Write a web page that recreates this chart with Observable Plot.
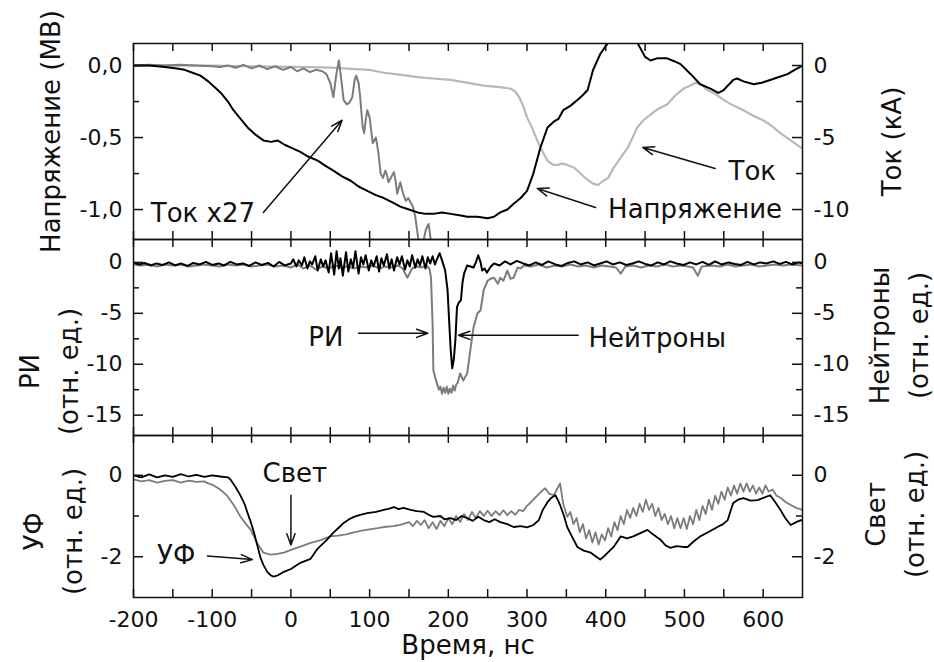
<!DOCTYPE html>
<html><head><meta charset="utf-8">
<script src="https://cdn.jsdelivr.net/npm/d3@7"></script>
<script src="https://cdn.jsdelivr.net/npm/@observablehq/plot@0.6"></script>
<style>
body{margin:0;background:#fff;}
#chart{position:relative;width:934px;height:662px;overflow:hidden;background:#fff;}
#chart svg{position:absolute;left:0;top:0;}
</style></head><body><div id="chart"></div>
<script>
// ---------- tick values ----------
const xMajorTicks = [-200,-100,0,100,200,300,400,500,600];
const xMinorTicks = [-150,-50,50,150,250,350,450,550];
const vMajorTicks = [0,-0.5,-1.0];          // MV (right axis: kA = MV*10)
const vMinorTicks = [-0.25,-0.75];
const riMajorTicks = [0,-5,-10,-15];
const riMinorTicks = [-2.5,-7.5,-12.5];
const uvMajorTicks = [0,-2];
const uvMinorTicks = [-1];

// ---------- panel 1: voltage (MV), current (kA), current x27 (kA) ----------
const voltageT = [-200,-180,-160,-145,-135,-125,-115,-105,-95,-89,-80,-73,-64,-55,-45,-35,-25,-17,-8,0,12,21,34,45,54,65,76,86,97,108,118,129,139,150,161,171,181,192,203,214,224,237,250,258,266,275,283,292,300,308,317,326,334,340,346,355,364,370,377,384,393,402,412,422,432,442,450,457,465,478,487,495,508,520,533,543,550,555,562,567,575,588,598,609,620,631,640,650];
const voltageMV = [0,0,-0.01,-0.02,-0.03,-0.05,-0.07,-0.11,-0.16,-0.19,-0.25,-0.31,-0.37,-0.43,-0.48,-0.52,-0.53,-0.52,-0.55,-0.57,-0.60,-0.63,-0.66,-0.70,-0.73,-0.77,-0.80,-0.84,-0.87,-0.90,-0.92,-0.95,-0.98,-1.00,-1.02,-1.03,-1.03,-1.02,-1.03,-1.04,-1.05,-1.05,-1.06,-1.05,-1.02,-1.00,-0.96,-0.92,-0.87,-0.75,-0.57,-0.43,-0.39,-0.37,-0.31,-0.28,-0.24,-0.21,-0.17,-0.03,0.08,0.15,0.22,0.27,0.24,0.14,0.06,0.035,0.05,0.05,0.03,0.01,-0.06,-0.13,-0.16,-0.19,-0.17,-0.14,-0.10,-0.09,-0.11,-0.13,-0.12,-0.10,-0.08,-0.06,-0.03,0.0];

const currentT = [-200,-150,-100,-50,0,50,100,118,140,161,180,203,225,245,265,279,285,290,295,300,307,313,320,326,333,339,345,351,360,368,376,384,390,397,403,410,419,428,435,440,448,457,467,478,488,499,507,514,521,529,540,550,563,575,588,600,611,622,635,648];
const currentKA = [0,0,0,-0.05,-0.1,-0.15,-0.3,-0.5,-0.65,-0.8,-0.9,-1.0,-1.2,-1.4,-1.5,-1.6,-1.8,-2.2,-2.8,-3.6,-4.4,-5.2,-6.0,-6.6,-6.9,-6.9,-6.8,-6.9,-7.1,-7.5,-7.9,-8.2,-8.3,-8.0,-7.8,-7.1,-6.4,-5.7,-4.9,-4.3,-3.8,-3.4,-3.0,-2.7,-2.1,-1.6,-1.4,-1.2,-1.3,-1.7,-2.0,-2.4,-2.8,-3.1,-3.5,-3.8,-4.2,-4.7,-5.2,-5.7];

const current27T = [-200,-180,-160,-140,-120,-100,-90,-80,-70,-60,-50,-40,-30,-20,-10,0,8,16,24,32,40,45,50,54,58,61,64,67,71,74,78,81,83,86,88,91,93,95,97,100,104,108,111,114,117,120,122,124,127,131,133,135,137,139,142,146,149,152,155,158,160,162,165,168,171,173,175,177,180];
const current27KA = [0,0.05,0,0.05,0,-0.05,-0.1,0,-0.15,0.05,-0.2,0,-0.25,-0.05,-0.3,-0.1,-0.4,-0.2,-0.45,-0.3,-0.4,-0.6,-1.2,-2.2,-0.5,0.35,-1.0,-2.4,-2.7,-2.6,-2.2,-1.0,-0.7,-1.2,-2.2,-4.2,-4.7,-3.8,-3.1,-3.6,-5.4,-5.0,-6.0,-7.5,-7.8,-7.3,-7.6,-8.1,-7.8,-7.4,-8.0,-8.9,-8.5,-8.1,-8.8,-9.4,-9.2,-9.5,-9.8,-10.5,-11.3,-12.1,-12.8,-12.3,-11.5,-11.2,-11.0,-11.8,-13.5];

// ---------- panel 2: radiation (РИ) and neutrons, arb. units ----------
const riPairs = [[-200,-0.2],[-190,-0.3],[-180,-0.2],[-170,-0.4],[-160,-0.2],[-150,-0.3],[-140,-0.2],[-130,-0.4],[-120,-0.3],[-110,-0.2],[-100,-0.3],[-90,-0.4],[-80,-0.2],[-70,-0.3],[-60,-0.2],[-50,-0.4],[-40,-0.3],[-30,-0.2],[-20,-0.4],[-10,-0.3],[0,-0.5],[8,-0.2],[16,-0.6],[24,-0.3],[32,-0.7],[40,-0.4],[48,-0.6],[56,-0.3],[64,-0.5],[72,-0.4],[80,-0.6],[88,-0.4],[96,-0.5],[104,-0.3],[112,-0.6],[120,-0.4],[128,-0.5],[136,-0.3],[142,-0.6],[148,-1.5],[154,-0.6],[160,-0.4],[166,-0.5],[172,-0.3],[176,-0.6],[178,-1.5],[180,-6.0],[181,-10.6],[184,-11.5],[186,-12.0],[188,-12.5],[190,-12.2],[192,-12.9],[194,-12.3],[196,-12.8],[198,-12.2],[200,-12.9],[202,-12.4],[204,-12.8],[206,-12.1],[208,-12.6],[210,-12.0],[212,-11.8],[215,-10.9],[219,-11.6],[224,-10.9],[228,-8.6],[232,-6.4],[237,-5.0],[241,-4.7],[245,-2.7],[250,-1.8],[254,-1.6],[258,-1.5],[263,-2.1],[266,-1.5],[270,-1.8],[275,-0.8],[279,-1.6],[283,-1.5],[288,-0.5],[292,-0.6],[296,-0.3],[305,-0.4],[315,-0.2],[325,-0.5],[335,-0.3],[345,-0.4],[355,-0.2],[365,-0.4],[375,-0.3],[385,-0.5],[395,-0.3],[405,-0.4],[413,-0.5],[419,-1.1],[425,-0.4],[435,-0.3],[445,-0.5],[455,-0.3],[465,-0.4],[475,-0.2],[485,-0.4],[495,-0.3],[505,-0.4],[511,-0.5],[517,-1.3],[522,-0.4],[535,-0.3],[545,-0.4],[555,-0.2],[565,-0.4],[575,-0.3],[585,-0.2],[595,-0.4],[605,-0.3],[615,-0.2],[625,-0.3],[635,-0.2],[650,-0.3]];

const neutronPairs = [[-200,0],[-193,-0.2],[-186,-0.05],[-178,-0.3],[-171,-0.1],[-163,-0.25],[-155,0],[-147,-0.3],[-140,-0.1],[-131,-0.35],[-124,-0.05],[-116,-0.2],[-108,0.05],[-100,-0.25],[-92,-0.1],[-85,-0.3],[-77,0.05],[-69,-0.2],[-61,-0.1],[-53,-0.35],[-45,0],[-37,-0.25],[-29,-0.05],[-22,-0.4],[-15,0.05],[-8,-0.3],[0,-0.1],[3,0.3],[7,-0.4],[10,0.2],[14,-0.3],[17,0.5],[21,-0.6],[24,0.1],[27,-0.2],[31,0.6],[34,-0.8],[38,0.3],[41,-0.4],[44,0.2],[48,-1.0],[51,0.9],[55,-1.2],[58,1.1],[61,-0.6],[63,0.4],[66,-1.3],[70,1.0],[73,-0.9],[76,0.3],[79,-0.5],[82,1.1],[86,-1.1],[89,0.5],[92,-0.2],[95,0.7],[99,-0.8],[102,0.2],[105,-0.4],[109,0.6],[112,-0.9],[115,0.4],[118,-0.3],[122,0.8],[125,-0.6],[128,0.3],[131,-0.8],[135,0.5],[138,-0.2],[141,0.6],[145,-0.7],[148,0.2],[151,-0.4],[154,0.7],[158,-0.5],[161,0.3],[164,-0.3],[167,0.6],[171,-0.6],[174,0.5],[177,-0.1],[180,0.6],[183,-0.2],[186,0.4],[189,0.9],[192,0.2],[196,-0.8],[199,-2.7],[203,-8.6],[205,-10.4],[207,-9.5],[209,-7.6],[211,-4.4],[213,-4.0],[216,-3.7],[218,-2.0],[220,-1.1],[224,-0.3],[228,-0.4],[232,-0.5],[235,0.0],[238,0.7],[241,0.0],[243,-0.8],[246,-0.6],[249,-1.0],[254,-0.4],[258,-0.1],[265,-0.3],[272,0.1],[279,-0.2],[287,0.15],[295,-0.1],[303,-0.3],[311,0.0],[319,-0.25],[327,0.1],[336,-0.2],[344,-0.35],[352,-0.05],[360,0.1],[368,-0.2],[377,0.0],[385,-0.3],[393,-0.1],[401,0.1],[409,-0.2],[418,0.0],[426,-0.25],[434,-0.1],[442,0.1],[450,-0.15],[458,-0.3],[466,0.0],[474,-0.2],[482,0.1],[490,-0.1],[499,-0.25],[507,0.0],[515,-0.2],[523,0.05],[531,-0.25],[539,0.1],[547,-0.2],[556,0.0],[564,-0.15],[572,-0.25],[580,0.05],[588,-0.2],[596,0.0],[604,-0.1],[613,0.1],[621,-0.15],[629,0.05],[637,-0.2],[645,0.0],[650,-0.1]];

// ---------- panel 3: UV (УФ) and light (Свет), arb. units ----------
const uvPairs = [[-200,0],[-190,-0.05],[-180,0.02],[-170,-0.05],[-160,0],[-150,-0.04],[-140,0.03],[-130,-0.03],[-120,0.01],[-110,-0.04],[-100,0],[-90,-0.03],[-80,-0.05],[-77,-0.1],[-70,-0.3],[-64,-0.5],[-59,-0.7],[-55,-0.93],[-51,-1.15],[-47,-1.4],[-43,-1.7],[-39,-2.0],[-35,-2.2],[-30,-2.37],[-26,-2.45],[-22,-2.49],[-17,-2.46],[-9,-2.37],[0,-2.3],[12,-2.15],[25,-2.05],[34,-1.8],[45,-1.6],[54,-1.41],[60,-1.3],[67,-1.17],[74,-1.08],[80,-1.02],[88,-0.97],[97,-0.93],[108,-0.9],[118,-0.85],[125,-0.82],[131,-0.78],[137,-0.83],[143,-0.8],[152,-0.85],[160,-0.88],[169,-0.9],[175,-0.97],[181,-1.02],[190,-1.0],[195,-1.08],[203,-1.05],[210,-1.1],[217,-1.0],[224,-1.05],[231,-1.12],[238,-1.02],[245,-1.1],[252,-1.15],[259,-1.08],[266,-1.15],[275,-1.2],[283,-1.27],[292,-1.25],[300,-1.28],[308,-1.22],[315,-1.1],[320,-0.85],[326,-0.66],[331,-0.55],[336,-0.49],[339,-0.6],[342,-0.73],[347,-1.0],[351,-1.27],[357,-1.5],[364,-1.76],[372,-1.85],[381,-1.9],[388,-2.0],[393,-2.07],[400,-1.95],[410,-1.76],[419,-1.5],[427,-1.55],[435,-1.5],[444,-1.42],[453,-1.34],[460,-1.45],[470,-1.59],[476,-1.72],[482,-1.78],[490,-1.74],[498,-1.76],[504,-1.76],[512,-1.62],[520,-1.5],[530,-1.4],[542,-1.27],[549,-1.2],[555,-1.1],[559,-0.85],[562,-0.68],[568,-0.6],[575,-0.56],[584,-0.62],[593,-0.61],[601,-0.55],[609,-0.49],[615,-0.65],[622,-0.85],[628,-1.05],[635,-1.22],[642,-1.15],[648,-1.1],[650,-1.12]];

const lightPairs = [[-200,-0.1],[-190,-0.15],[-180,-0.12],[-170,-0.18],[-160,-0.14],[-150,-0.12],[-140,-0.18],[-130,-0.13],[-120,-0.16],[-110,-0.15],[-105,-0.2],[-98,-0.25],[-90,-0.35],[-81,-0.5],[-72,-0.75],[-64,-1.02],[-57,-1.2],[-51,-1.34],[-43,-1.66],[-35,-1.9],[-26,-1.95],[-17,-1.93],[-9,-1.9],[0,-1.83],[12,-1.75],[25,-1.66],[38,-1.59],[50,-1.5],[60,-1.48],[70,-1.45],[80,-1.40],[90,-1.36],[100,-1.33],[110,-1.30],[118,-1.27],[130,-1.25],[139,-1.22],[145,-1.18],[150,-1.15],[155,-1.25],[160,-1.12],[165,-1.22],[170,-1.1],[175,-1.3],[180,-1.15],[185,-1.32],[190,-1.12],[195,-1.25],[200,-1.05],[205,-1.2],[210,-1.0],[215,-1.15],[220,-0.95],[225,-1.1],[230,-0.9],[235,-1.05],[240,-0.88],[245,-1.0],[250,-0.87],[255,-1.0],[260,-0.88],[265,-0.98],[270,-0.86],[275,-0.98],[280,-0.88],[285,-0.97],[290,-0.85],[295,-0.88],[300,-0.75],[304,-0.68],[309,-0.58],[313,-0.5],[318,-0.4],[323,-0.32],[328,-0.45],[334,-0.49],[338,-0.35],[342,-0.2],[346,-0.7],[351,-1.02],[355,-0.9],[359,-1.2],[363,-1.05],[367,-1.4],[371,-1.2],[375,-1.55],[379,-1.35],[383,-1.65],[387,-1.4],[391,-1.7],[395,-1.45],[399,-1.6],[403,-1.3],[407,-1.5],[411,-1.15],[415,-1.35],[419,-1.0],[423,-1.2],[427,-0.85],[431,-1.05],[435,-0.8],[439,-1.0],[443,-0.7],[447,-0.9],[451,-0.6],[455,-0.85],[459,-0.7],[463,-1.0],[467,-0.8],[471,-1.1],[475,-0.95],[479,-1.2],[483,-1.0],[487,-1.3],[491,-1.05],[495,-1.3],[499,-1.05],[503,-1.32],[507,-1.0],[511,-1.2],[515,-0.85],[519,-1.1],[523,-0.75],[527,-0.95],[531,-0.6],[535,-0.85],[539,-0.5],[543,-0.7],[547,-0.4],[551,-0.6],[555,-0.3],[559,-0.5],[563,-0.25],[567,-0.45],[571,-0.2],[575,-0.4],[579,-0.2],[583,-0.4],[587,-0.25],[591,-0.45],[595,-0.3],[599,-0.45],[603,-0.25],[607,-0.4],[612,-0.35],[617,-0.5],[622,-0.55],[628,-0.65],[635,-0.73],[642,-0.8],[650,-0.85]];

// ---------- annotations (data coordinates of each panel) ----------
const notesV = [{label:"Ток x27", x:-178, y:-1.03},{label:"Ток", x:556, y:-0.736},{label:"Напряжение", x:403, y:-1.0}];
const arrowsV = [{x1:-35,y1:-1.02,x2:65,y2:-0.38},{x1:539,y1:-0.715,x2:447,y2:-0.569},{x1:387,y1:-0.986,x2:313,y2:-0.854}];
const notesR = [{label:"РИ", x:22, y:-7.35},{label:"Нейтроны", x:378, y:-7.45}];
const arrowsR = [{x1:86,y1:-6.96,x2:174,y2:-6.96},{x1:365,y1:-7.16,x2:213,y2:-7.16}];
const notesU = [{label:"Свет", x:-36, y:0.05},{label:"УФ", x:-170, y:-1.98}];
const arrowsU = [{x1:0,y1:-0.49,x2:0,y2:-1.71},{x1:-106,y1:-1.98,x2:-49,y2:-2.07}];

// ---------- build ----------
const zipTV = (ts, vs) => ts.map((t, i) => ({t, v: vs[i]}));
const fromPairs = (p) => p.map(([t, v]) => ({t, v}));

const W = 934, H = 662, ML = 133, MR = 132;
const FW = W - ML - MR;
const FONT = "'DejaVu Sans', 'Liberation Sans', Arial, sans-serif";
const INK = "#111";
const BLACK = "#000", GRAY = "#7c7c7c", LIGHT = "#b8b8b8";
const TICKFS = 22, TITLEFS = 26;
const fmtComma = d => d.toFixed(1).replace(".", ",");
const fmtInt = d => String(Math.round(d));

function tickMarks(top, bottom, yMaj, yMin, bottomOut) {
  const fh = bottom - top;
  const xs = xMajorTicks.concat(xMinorTicks);
  const s = {stroke: INK, strokeWidth: 1.5};
  return [
    Plot.tickX(xs, {x: d => d, insetBottom: fh - 8, ...s}),
    Plot.tickX(xs, {x: d => d, insetTop: fh - 8, insetBottom: -bottomOut, ...s}),
    Plot.tickY(yMaj, {y: d => d, insetRight: FW - 10, ...s}),
    Plot.tickY(yMaj, {y: d => d, insetLeft: FW - 10, ...s}),
    Plot.tickY(yMin, {y: d => d, insetRight: FW - 6, ...s}),
    Plot.tickY(yMin, {y: d => d, insetLeft: FW - 6, ...s})
  ];
}

function panel({top, bottom, yDomain, marks}) {
  return Plot.plot({
    width: W, height: H,
    marginLeft: ML, marginRight: MR, marginTop: top, marginBottom: H - bottom,
    x: {domain: [-200, 650], axis: null},
    y: {domain: yDomain, axis: null},
    style: {background: "transparent", fontFamily: FONT, color: INK, overflow: "visible"},
    marks
  });
}

function titleMark(text, side, dx, dy) {
  return Plot.text([text], {text: d => d, frameAnchor: side, dx, dy, rotate: -90,
    textAnchor: "middle", lineAnchor: "middle", lineHeight: 1.5, fontSize: TITLEFS, fill: INK});
}

const arrowStyle = {x1: "x1", y1: "y1", x2: "x2", y2: "y2", stroke: INK, strokeWidth: 1.5, headLength: 12, headAngle: 40};
const noteStyle = {x: "x", y: "y", text: "label", textAnchor: "start", lineAnchor: "middle", fontSize: TITLEFS, fill: INK};

// Panel 1
const p1 = panel({
  top: 43, bottom: 239, yDomain: [-1.208, 0.153],
  marks: [
    Plot.line(zipTV(currentT, currentKA), {x: "t", y: d => d.v / 10, stroke: LIGHT, strokeWidth: 2.2, clip: true}),
    Plot.line(zipTV(current27T, current27KA), {x: "t", y: d => d.v / 10, stroke: GRAY, strokeWidth: 2, clip: true}),
    Plot.line(zipTV(voltageT, voltageMV), {x: "t", y: "v", stroke: BLACK, strokeWidth: 2, clip: true}),
    ...tickMarks(43, 239, vMajorTicks, vMinorTicks, 0),
    Plot.axisY({anchor: "left", ticks: vMajorTicks, tickSize: 0, tickPadding: 11, tickFormat: fmtComma, fontSize: TICKFS, label: null}),
    Plot.axisY({anchor: "right", ticks: vMajorTicks, tickSize: 0, tickPadding: 11, tickFormat: d => fmtInt(d * 10), fontSize: TICKFS, label: null}),
    Plot.arrow(arrowsV, arrowStyle),
    Plot.text(notesV, noteStyle),
    titleMark("Напряжение (МВ)", "left", -86, -10),
    titleMark("Ток (кА)", "right", 86, 0),
    Plot.frame({stroke: INK, strokeWidth: 1.5})
  ]
});

// Panel 2
const p2 = panel({
  top: 239, bottom: 435, yDomain: [-17, 2.25],
  marks: [
    Plot.line(fromPairs(riPairs), {x: "t", y: "v", stroke: GRAY, strokeWidth: 2, clip: true}),
    Plot.line(fromPairs(neutronPairs), {x: "t", y: "v", stroke: BLACK, strokeWidth: 2, clip: true}),
    ...tickMarks(239, 435, riMajorTicks, riMinorTicks, 0),
    Plot.axisY({anchor: "left", ticks: riMajorTicks, tickSize: 0, tickPadding: 11, tickFormat: fmtInt, fontSize: TICKFS, label: null}),
    Plot.axisY({anchor: "right", ticks: riMajorTicks, tickSize: 0, tickPadding: 11, tickFormat: fmtInt, fontSize: TICKFS, label: null}),
    Plot.arrow(arrowsR, arrowStyle),
    Plot.text(notesR, noteStyle),
    titleMark("РИ\n(отн. ед.)", "left", -87, 34),
    titleMark("Нейтроны\n(отн. ед.)", "right", 94, -2),
    Plot.frame({stroke: INK, strokeWidth: 1.5})
  ]
});

// Panel 3
const p3 = panel({
  top: 435, bottom: 597, yDomain: [-3, 0.976],
  marks: [
    Plot.line(fromPairs(lightPairs), {x: "t", y: "v", stroke: GRAY, strokeWidth: 1.8, clip: true}),
    Plot.line(fromPairs(uvPairs), {x: "t", y: "v", stroke: BLACK, strokeWidth: 1.8, clip: true}),
    ...tickMarks(435, 597, uvMajorTicks, uvMinorTicks, 0),
    Plot.axisY({anchor: "left", ticks: uvMajorTicks, tickSize: 0, tickPadding: 11, tickFormat: fmtInt, fontSize: TICKFS, label: null}),
    Plot.axisY({anchor: "right", ticks: uvMajorTicks, tickSize: 0, tickPadding: 11, tickFormat: fmtInt, fontSize: TICKFS, label: null}),
    Plot.axisX({anchor: "bottom", ticks: xMajorTicks, tickSize: 0, tickPadding: 14, tickFormat: fmtInt, fontSize: TICKFS, label: null}),
    Plot.arrow(arrowsU, arrowStyle),
    Plot.text(notesU, noteStyle),
    titleMark("УФ\n(отн. ед.)", "left", -83, 15),
    titleMark("Свет\n(отн. ед.)", "right", 90, -2),
    Plot.text(["Время, нс"], {text: d => d, frameAnchor: "bottom", dy: 48, textAnchor: "middle", lineAnchor: "middle", fontSize: TITLEFS, fill: INK}),
    Plot.frame({stroke: INK, strokeWidth: 1.5})
  ]
});

const chart = document.getElementById("chart");
[p1, p2, p3].forEach(svg => chart.appendChild(svg));
</script></body></html>
